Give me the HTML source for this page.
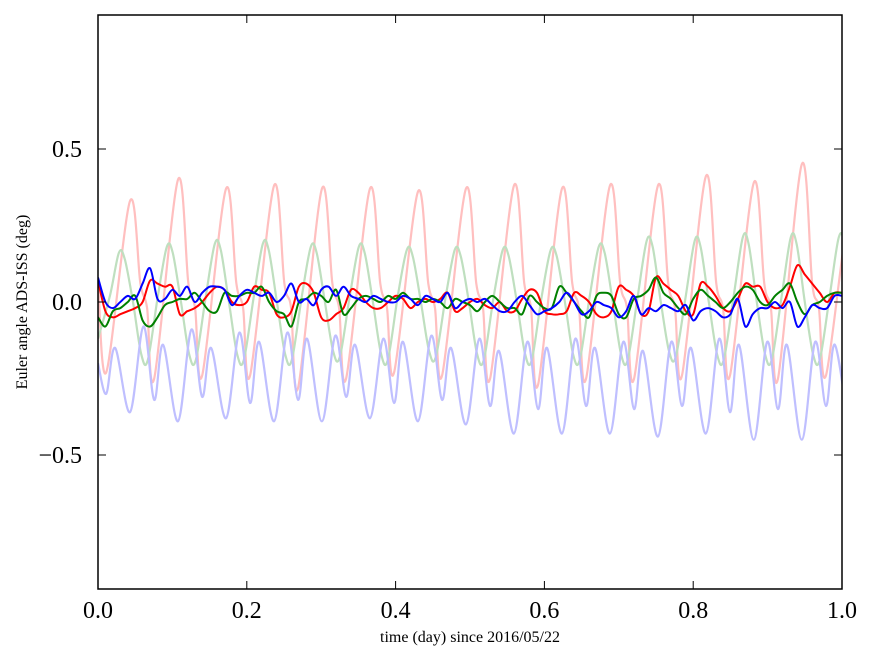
<!DOCTYPE html>
<html><head><meta charset="utf-8"><style>
body{margin:0;background:#fff}
svg{display:block;font-family:"Liberation Serif",serif}
</style></head><body>
<svg id="chart" width="875" height="662">
<rect x="0" y="0" width="875" height="662" fill="#fff"/>
<g id="plot"></g>
</svg>
<script>
const xTicks=[0,0.2,0.4,0.6,0.8,1.0];
const xTickLabels=["0.0","0.2","0.4","0.6","0.8","1.0"];
const yTicks=[0.5,0,-0.5];
const yTickLabels=["0.5","0.0","\u22120.5"];
// orbit start times (day)
const orbitStart=[0.011,0.0755,0.14,0.2045,0.269,0.3335,0.398,0.4625,0.527,0.5915,0.656,0.7205,0.785,0.8495,0.914,0.9785];
const redTrough=[-0.23,-0.25,-0.24,-0.24,-0.28,-0.25,-0.23,-0.24,-0.25,-0.27,-0.25,-0.25,-0.24,-0.24,-0.25,-0.24];
const redPeak=[0.33,0.40,0.37,0.38,0.37,0.37,0.36,0.37,0.38,0.37,0.38,0.38,0.41,0.39,0.45,0.30];
const greenPeak=[0.16,0.18,0.19,0.19,0.18,0.18,0.17,0.17,0.17,0.17,0.18,0.20,0.20,0.21,0.21,0.21];
const greenTrough=[-0.19,-0.19,-0.19,-0.19,-0.18,-0.19,-0.18,-0.19,-0.19,-0.19,-0.19,-0.18,-0.19,-0.19,-0.19,-0.19];
const blueDip1=[-0.30,-0.32,-0.31,-0.33,-0.32,-0.31,-0.33,-0.32,-0.34,-0.35,-0.34,-0.35,-0.34,-0.36,-0.35,-0.34];
const blueHump=[-0.15,-0.14,-0.15,-0.13,-0.12,-0.14,-0.13,-0.15,-0.16,-0.15,-0.15,-0.16,-0.15,-0.14,-0.14,-0.14];
const blueDip2=[-0.36,-0.39,-0.38,-0.39,-0.39,-0.38,-0.39,-0.40,-0.43,-0.43,-0.43,-0.44,-0.43,-0.45,-0.45,-0.44];
const blueTop=[-0.08,-0.09,-0.10,-0.10,-0.11,-0.12,-0.11,-0.12,-0.13,-0.12,-0.13,-0.13,-0.12,-0.13,-0.13,-0.13];
const darkTimes=[];for(let i=0;i<=100;i++)darkTimes.push(i/100);
const redDark=[0.07,-0.03,-0.05,-0.04,-0.03,-0.02,0.0,0.07,0.06,0.05,0.05,-0.04,-0.03,-0.02,0.0,0.03,0.05,0.04,0.0,-0.01,0.0,0.05,0.04,0.03,-0.04,-0.05,-0.03,0.05,0.06,0.03,-0.05,-0.06,-0.04,-0.02,0.04,0.03,0.0,-0.02,-0.02,0.0,0.02,0.01,-0.02,0.0,0.01,0.0,0.01,0.03,-0.03,-0.02,0.0,0.01,-0.01,-0.02,0.0,-0.03,-0.03,0.01,0.04,0.03,-0.03,-0.04,-0.04,-0.03,0.03,0.02,0.0,-0.04,-0.05,-0.03,0.05,0.04,0.02,-0.04,-0.03,0.08,0.06,0.04,0.02,-0.03,-0.04,0.06,0.05,0.02,-0.02,-0.03,0.01,0.06,0.05,0.05,0.0,-0.02,-0.01,0.05,0.12,0.09,0.06,0.03,0.0,0.03,0.03];
const greenDark=[-0.05,-0.08,-0.03,-0.02,0.0,0.02,-0.06,-0.08,-0.05,-0.01,0.0,0.01,0.01,0.03,0.0,-0.03,-0.03,0.03,0.02,0.02,0.03,0.03,0.05,0.0,-0.03,-0.04,-0.08,0.0,0.01,0.03,0.02,0.0,0.04,-0.04,-0.02,0.01,0.02,0.01,0.0,0.02,0.01,0.03,0.01,0.01,0.0,0.01,0.0,-0.02,0.01,0.0,-0.01,-0.03,0.0,0.02,0.0,-0.02,-0.02,-0.04,0.02,0.0,-0.02,-0.02,0.05,0.03,0.0,-0.03,-0.05,0.02,0.03,0.02,-0.04,-0.05,0.01,0.02,0.04,0.08,0.03,0.01,-0.02,-0.04,0.01,0.04,0.02,0.0,-0.02,0.0,0.03,0.05,0.04,0.0,-0.01,0.02,0.04,0.06,0.0,-0.04,-0.01,0.0,0.02,0.03,0.03];
const blueDark=[0.08,0.0,-0.02,0.0,0.02,0.01,0.06,0.11,0.01,0.01,0.04,0.02,0.05,0.0,0.03,0.05,0.05,0.04,-0.01,0.02,0.04,0.03,0.02,0.03,0.0,0.02,0.06,0.0,0.01,-0.01,0.04,0.05,0.02,0.05,0.02,0.01,0.0,0.02,0.01,0.0,0.0,0.02,0.01,-0.01,0.02,0.01,0.0,0.03,-0.02,0.0,0.01,0.0,0.01,-0.01,-0.03,-0.03,0.0,0.02,-0.01,-0.04,-0.03,-0.02,0.0,0.03,0.0,-0.04,-0.03,0.0,-0.01,-0.02,-0.05,-0.03,0.02,-0.04,-0.02,-0.03,-0.01,-0.02,-0.03,-0.01,-0.06,-0.03,-0.02,-0.03,-0.05,-0.04,0.01,-0.08,-0.04,-0.02,-0.02,0.0,-0.02,0.0,-0.08,-0.05,-0.01,-0.02,-0.02,0.02,0.02];

const L=98,R=842,T=15,B=589,Y0=302,YS=306;
const sx=v=>L+(R-L)*v;
const sy=v=>Y0-YS*v;
const NS="http://www.w3.org/2000/svg";
const svg=document.getElementById('chart');
const plot=document.getElementById('plot');
function mk(tag,attrs,parent){const e=document.createElementNS(NS,tag);for(const k in attrs)e.setAttribute(k,attrs[k]);(parent||svg).appendChild(e);return e;}

// build light series from per-orbit arrays
const redLX=[0],redLY=[0.08],greenLX=[0],greenLY=[-0.12],blueLX=[0],blueLY=[-0.2];
orbitStart.forEach((t,k)=>{
  redLX.push(t,t+0.032,t+0.046,t+0.055);redLY.push(redTrough[k],redPeak[k],0.06,-0.02);
  greenLX.push(t+0.005,t+0.017,t+0.025,t+0.036,t+0.047,t+0.056);
  greenLY.push(0.02,greenPeak[k],greenPeak[k]-0.02,0.0,greenTrough[k]+0.02,greenTrough[k]);
  blueLX.push(t,t+0.012,t+0.032,t+0.05);blueLY.push(blueDip1[k],blueHump[k],blueDip2[k],blueTop[k]);
});
function smoothPath(xs,ys){
  const p=xs.map((x,i)=>[sx(x),sy(ys[i])]).filter(q=>q[0]<=R+20);
  let d="M"+p[0][0]+","+p[0][1];
  for(let i=0;i<p.length-1;i++){
    const p0=p[i-1]||p[i],p1=p[i],p2=p[i+1],p3=p[i+2]||p2;
    const c1=[p1[0]+(p2[0]-p0[0])/6,p1[1]+(p2[1]-p0[1])/6];
    const c2=[p2[0]-(p3[0]-p1[0])/6,p2[1]-(p3[1]-p1[1])/6];
    d+=`C${c1[0].toFixed(1)},${c1[1].toFixed(1)} ${c2[0].toFixed(1)},${c2[1].toFixed(1)} ${p2[0].toFixed(1)},${p2[1].toFixed(1)}`;
  }
  return d;
}
mk('clipPath',{id:'clip'},mk('defs',{})).appendChild(Object.assign(document.createElementNS(NS,'rect'),{}));
document.querySelector('#clip rect').setAttribute('x',L);
document.querySelector('#clip rect').setAttribute('y',T);
document.querySelector('#clip rect').setAttribute('width',R-L);
document.querySelector('#clip rect').setAttribute('height',B-T);
plot.setAttribute('clip-path','url(#clip)');

const lights=[[redLX,redLY,'#ffbfbf','roll-reference-line'],[greenLX,greenLY,'#bfdfbf','pitch-reference-line'],[blueLX,blueLY,'#bfbfff','yaw-reference-line']];
lights.forEach(s=>{
  const e=mk('path',{d:smoothPath(s[0],s[1]),fill:'none',stroke:s[2],'stroke-width':2.2},plot);
  
  
});
const darks=[[redDark,'#ff0000','roll-line'],[greenDark,'#008000','pitch-line'],[blueDark,'#0000ff','yaw-line']];
darks.forEach(s=>{
  const e=mk('path',{d:smoothPath(darkTimes,s[0]),fill:'none',stroke:s[1],'stroke-width':2},plot);
  
  
});

// frame
const fr=mk('rect',{x:L,y:T,width:R-L,height:B-T,fill:'none',stroke:'#000','stroke-width':1.5});


xTicks.forEach((v,i)=>{
  const x=sx(v);
  mk('line',{x1:x,y1:B,x2:x,y2:B-8,stroke:'#000'});
  mk('line',{x1:x,y1:T,x2:x,y2:T+8,stroke:'#000'});
  const t=mk('text',{x:x,y:B+29,'text-anchor':'middle','font-size':24});
  t.textContent=xTickLabels[i];
  
  
});
yTicks.forEach((v,i)=>{
  const y=sy(v);
  mk('line',{x1:L,y1:y,x2:L+8,y2:y,stroke:'#000'});
  mk('line',{x1:R,y1:y,x2:R-8,y2:y,stroke:'#000'});
  const t=mk('text',{x:L-16,y:y+8,'text-anchor':'end','font-size':24});
  t.textContent=yTickLabels[i];
  
  
});
const xt=mk('text',{x:470,y:642,'text-anchor':'middle','font-size':16});
xt.textContent='time (day) since 2016/05/22';


const yt=mk('text',{x:0,y:0,'text-anchor':'middle','font-size':16,transform:'translate(27,302) rotate(-90)'});
yt.textContent='Euler angle ADS-ISS (deg)';


</script>
</body></html>
